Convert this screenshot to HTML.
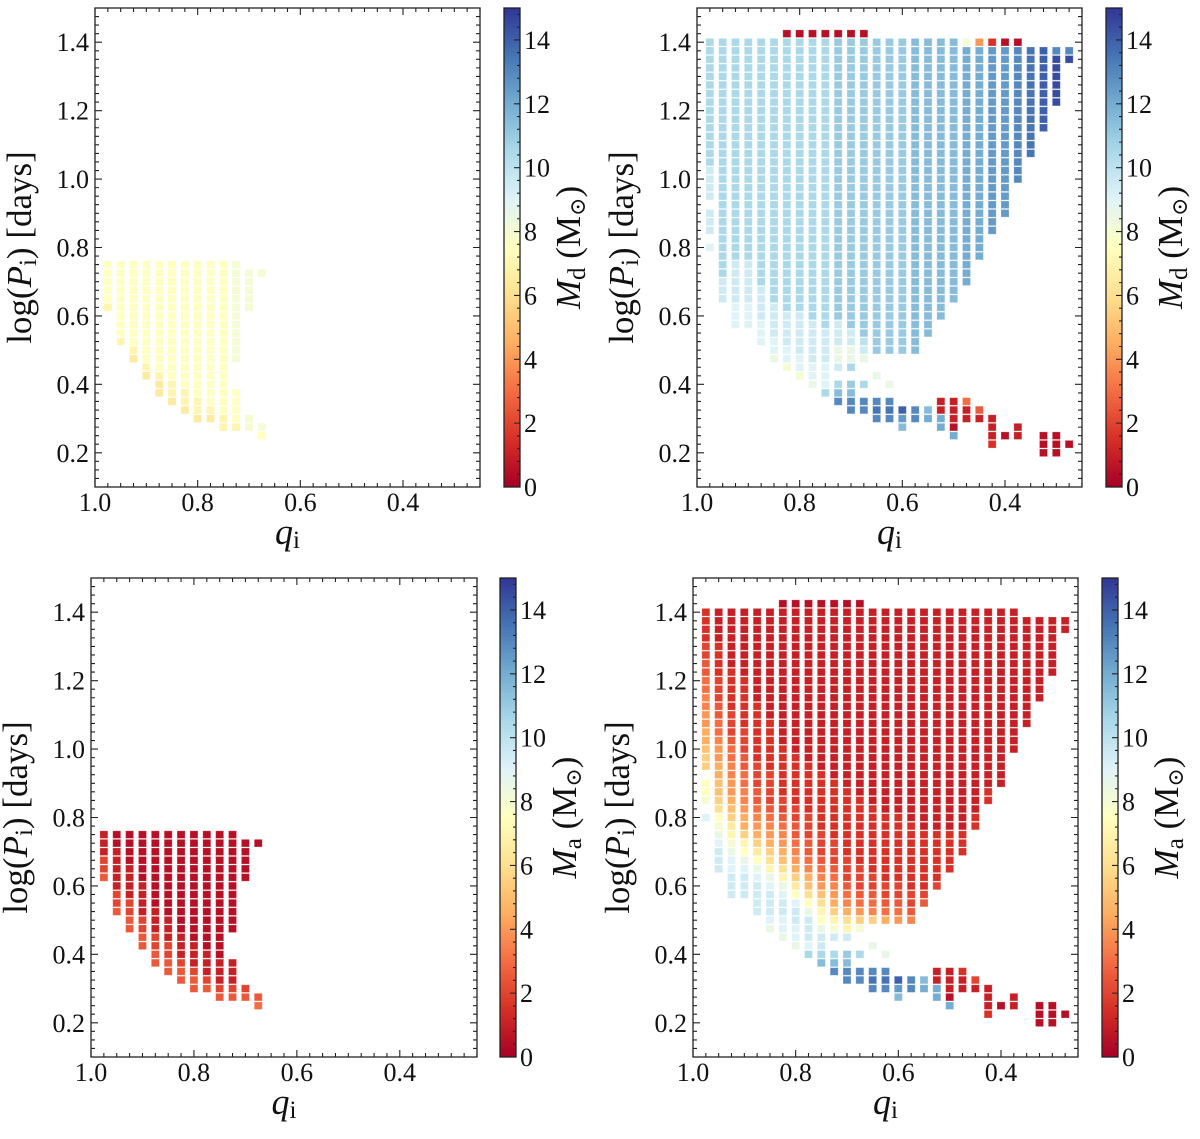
<!DOCTYPE html>
<html><head><meta charset="utf-8"><style>
html,body{margin:0;padding:0;background:#fff;}
svg{display:block;}
text{font-family:"Liberation Serif","DejaVu Serif",serif;}
</style></head><body>
<svg id="fig" xmlns="http://www.w3.org/2000/svg" width="1200" height="1139" viewBox="0 0 1200 1139">
<defs>
<linearGradient id="cmapGrad" x1="0" y1="1" x2="0" y2="0">
<stop offset="0" stop-color="#a50026"/><stop offset="0.1" stop-color="#d73027"/><stop offset="0.2" stop-color="#f46d43"/><stop offset="0.3" stop-color="#fdae61"/><stop offset="0.4" stop-color="#fee090"/><stop offset="0.5" stop-color="#ffffbf"/><stop offset="0.6" stop-color="#e0f3f8"/><stop offset="0.7" stop-color="#abd9e9"/><stop offset="0.8" stop-color="#74add1"/><stop offset="0.9" stop-color="#4575b4"/><stop offset="1" stop-color="#313695"/>
</linearGradient>
</defs>
</svg>
<script>
// ---- data ----
const qValues = [0.975,0.95,0.925,0.9,0.875,0.85,0.825,0.8,0.775,0.75,0.725,0.7,0.675,0.65,0.625,0.6,0.575,0.55,0.525,0.5,0.475,0.45,0.425,0.4,0.375,0.35,0.325,0.3,0.275];
const logPValues = [0.2,0.225,0.25,0.275,0.3,0.325,0.35,0.375,0.4,0.425,0.45,0.475,0.5,0.525,0.55,0.575,0.6,0.625,0.65,0.675,0.7,0.725,0.75,0.775,0.8,0.825,0.85,0.875,0.9,0.925,0.95,0.975,1.0,1.025,1.05,1.075,1.1,1.125,1.15,1.175,1.2,1.225,1.25,1.275,1.3,1.325,1.35,1.375,1.4,1.425];
const valueCodes = "0123456789abcdefghijklmnopqrstuv";
const cbTicks = [0,2,4,6,8,10,12,14];
const yTicks = [0.2,0.4,0.6,0.8,1.0,1.2,1.4];
const xTicks = [1.0,0.8,0.6,0.4];
const mdTopLeft = [
"17.,e,5f,27.","13.,e,9f,27.","11.,d,e,10f,27.","9.,d,e,12f,27.","7.,2d,e,13f,27.","6.,d,2e,14f,27.","5.,d,2e,15f,27.","4.,d,2e,16f,27.","4.,d,e,17f,27.","3.,2e,18f,27.","3.,e,4f,3.,12g,27.","3.,2g,12.,5g,28.","2.,f,g,17.,g,28."
];
const maBottomLeft = [
"17.,5,24,32,27.","13.,5,24,52,21,27.","11.,25,24,42,41,27.","9.,25,24,42,61,27.","7.,25,24,32,91,27.","6.,25,24,32,101,27.","5.,25,4,32,121,27.","4.,25,4,32,131,27.","4.,5,4,32,141,27.","3.,5,4,32,151,27.","3.,5,4,32,3.,121,27.","3.,5,4,12.,51,28.","2.,6,5,17.,1,28."
];
const mdTopRight = [
"24.,i,.,3j,.,4j,15l,.","18.,3j,28l,.","15.,3i,5j,26l,.","15.,3i,5j,26l,.","13.,3i,4j,29l,.","11.,h,2i,4j,31l,.","10.,g,2i,4j,32l,1","9.,g,2i,5j,32l,1","8.,h,2i,5j,33l,1","7.,l,3i,4j,34l,1",
"6.,q,n,l,.,j,2h,3j,33m,1","5.,2q,n,m,.,l,2h,2j,34m,1","5.,2q,.,l,2.,h,j,k,35m,1","4.,q,r,q,2.,h,2.,37m,.","4.,q,r,q,.,h,3.,37m,.","3.,n,p,s,6.,37m,.","4.,2q,6.,37n,.","4.,o,n,8.,35n,.","3.,2o,22,9.,33n,.","2.,o,1,32,11.,31n,.",
"4.,22,6,13.,28o,g,.","4.,2,5,17.,25o,8,.","1.,3,32,21.,22p,3,.","2.,1,25.,20p,1,.","2.,22,28.,16q,1,.","35.,13r,2.","31,35.,10s,2.","31,38.,6t,q,2.",".,1,44.,t,q,2."
];
const maBottomRight = [
"24.,i,.,g,2f,.,2b,a,29,28,27,26,25,24,43,.","18.,3j,i,h,g,f,c,b,2a,29,28,7,26,25,34,43,42,.","15.,3j,2i,h,g,e,d,b,a,9,28,27,26,5,34,53,72,.","15.,3j,i,h,f,e,b,29,8,27,26,25,34,63,82,.","13.,4j,i,h,f,d,b,9,8,7,6,25,34,73,112,.","11.,h,i,3j,i,h,e,c,b,9,8,7,6,5,44,63,132,.","10.,h,2i,2j,i,h,e,c,a,9,8,7,6,5,24,63,162,1","9.,h,2i,2j,i,f,d,b,9,8,7,6,25,24,63,172,1","8.,l,i,3j,h,f,c,a,9,7,6,25,34,63,182,1","7.,n,l,2j,h,f,e,c,a,8,7,6,5,34,73,192,1",
"6.,q,n,l,.,j,g,e,b,9,8,7,6,5,34,73,202,1","5.,2q,n,m,.,j,e,c,9,7,6,5,34,83,212,1","5.,2q,.,l,2.,g,b,8,6,5,34,83,222,1","4.,q,r,q,2.,h,2.,b,7,6,5,24,83,232,.","4.,q,r,q,.,h,3.,9,6,5,24,83,242,.","3.,n,p,s,6.,8,6,5,24,83,242,.","4.,2q,6.,7,5,24,83,252,.","4.,o,n,8.,5,4,73,262,.","3.,2o,22,9.,4,63,262,.","2.,o,1,32,11.,53,262,.",
"4.,22,3,13.,33,262,.","4.,2,4,17.,23,242,.","1.,3,32,21.,23,212,.","2.,1,25.,212,.","2.,22,28.,172,.","35.,132,2.","31,35.,102,2.","31,38.,72,2.",".,1,44.,22,2."
];

// ---- rendering ----
var NS = "http://www.w3.org/2000/svg";
var svg = document.getElementById('fig');
var anchors = ["#a50026","#d73027","#f46d43","#fdae61","#fee090","#ffffbf","#e0f3f8","#abd9e9","#74add1","#4575b4","#313695"];
function hex(c){return [parseInt(c.substring(1,3),16),parseInt(c.substring(3,5),16),parseInt(c.substring(5,7),16)];}
function cmap(v){
  var t=Math.max(0,Math.min(1,v/15))*10; var i=Math.min(9,Math.floor(t)); var f=t-i;
  var a=hex(anchors[i]), b=hex(anchors[i+1]);
  var r=Math.round(a[0]+(b[0]-a[0])*f), g=Math.round(a[1]+(b[1]-a[1])*f), bl=Math.round(a[2]+(b[2]-a[2])*f);
  return "rgb("+r+","+g+","+bl+")";
}
function decode(s){
  var out=[]; var toks=s.split(",");
  for(var j=0;j<toks.length;j++){var tok=toks[j];var code=tok.charAt(tok.length-1);var n=tok.length>1?parseInt(tok.substring(0,tok.length-1),10):1;for(var i=0;i<n;i++)out.push(code);}
  return out;
}
function mk(tag,attrs,parent){var e=document.createElementNS(NS,tag);if(tag==='text')e.setAttribute('font-family','"Liberation Serif", "DejaVu Serif", serif');for(var k in attrs)e.setAttribute(k,String(attrs[k]));(parent||svg).appendChild(e);return e;}

function drawPanel(p){
  var g=mk('g',{});
  
  
  var X=function(q){return p.left+(1.0-q)/0.75*(p.right-p.left);};
  var Y=function(v){return p.top+(1.5-v)/1.4*(p.bottom-p.top);};
  var cellW=8, cellH=7.6;
  var cells=mk('g',{},g);
  
  
  for(var ci=0;ci<p.data.length;ci++){
    var codes=decode(p.data[ci]);
    for(var ri=0;ri<codes.length && ri<logPValues.length;ri++){
      var c=codes[ri];
      if(c==='.')continue;
      var val=valueCodes.indexOf(c)/2;
      var col=cmap(val);
      var r=document.createElementNS(NS,'rect');
      r.setAttribute('x',(X(qValues[ci])-cellW/2).toFixed(2));
      r.setAttribute('y',(Y(logPValues[ri])-cellH/2).toFixed(2));
      r.setAttribute('width',String(cellW));
      r.setAttribute('height',String(cellH));
      r.setAttribute('fill',col);
      r.setAttribute('stroke','#ffffff');
      r.setAttribute('stroke-opacity','0.3');
      r.setAttribute('stroke-width','0.8');
      
      
      cells.appendChild(r);
    }
  }
  var fr=mk('rect',{x:p.left,y:p.top,width:p.right-p.left,height:p.bottom-p.top,fill:'none',stroke:'#222','stroke-width':1.3},g);
  
  
  var d="";
  for(var k=0;k<=30;k++){var q=1.0-0.025*k;if(q<0.25-1e-9)break;var x=X(q);var L=(k%8===0)?7:4;
    d+="M"+x+" "+p.bottom+"v"+(-L)+"M"+x+" "+p.top+"v"+L;}
  for(var k2=0;k2<=56;k2++){var v=0.1+0.025*k2;var y=Y(v);var L2=((k2-4)%8===0)?7:4;
    d+="M"+p.left+" "+y+"h"+L2+"M"+p.right+" "+y+"h"+(-L2);}
  mk('path',{d:d,stroke:'#222','stroke-width':1.1,fill:'none'},g);
  yTicks.forEach(function(v){var t=mk('text',{x:p.left-6,y:Y(v)+9,'text-anchor':'end','font-size':26,fill:'#111'},g);t.textContent=v.toFixed(1);
    
    });
  xTicks.forEach(function(v){var t=mk('text',{x:X(v),y:p.bottom+24,'text-anchor':'middle','font-size':26,fill:'#111'},g);t.textContent=v.toFixed(1);
    
    });
  var xl=mk('text',{x:(p.left+p.right)/2,y:p.bottom+57,'text-anchor':'middle','font-size':36,fill:'#111'},g);
  xl.innerHTML='<tspan font-style="italic">q</tspan><tspan font-size="25" dy="4">i</tspan>';
  
  
  var cy=(p.top+p.bottom)/2;
  var yl=mk('text',{x:0,y:0,'text-anchor':'middle','font-size':35,fill:'#111',transform:'translate('+(p.left-64)+','+cy+') rotate(-90)'},g);
  yl.innerHTML='log(<tspan font-style="italic">P</tspan><tspan font-size="25" dy="5">i</tspan><tspan dy="-5">) [days]</tspan>';
  
  
  var cb=mk('g',{},g);
  
  
  var CY=function(v){return p.bottom-(v/15)*(p.bottom-p.top);};
  mk('rect',{x:p.cbL,y:p.top,width:p.cbR-p.cbL,height:p.bottom-p.top,fill:'url(#cmapGrad)',stroke:'#222','stroke-width':1.3},cb);
  var cd="";
  for(var k3=0;k3<=37;k3++){var vv=0.4*k3;if(vv>15)break;cd+="M"+p.cbR+" "+CY(vv)+"h"+((k3%5===0)?-6:-3);}
  mk('path',{d:cd,stroke:'#222','stroke-width':1.1},cb);
  cbTicks.forEach(function(v){var t=mk('text',{x:p.cbR+4,y:CY(v)+9,'font-size':26,fill:'#111'},cb);t.textContent=String(v);
    
    });
  var cl=mk('text',{x:0,y:0,'text-anchor':'middle','font-size':35,fill:'#111',transform:'translate('+(p.cbR+60)+','+cy+') rotate(-90)'},cb);
  cl.innerHTML='<tspan font-style="italic">M</tspan><tspan font-size="25" dy="5">'+p.sub+'</tspan><tspan dy="-5"> (M</tspan><tspan font-size="22" dy="5">⊙</tspan><tspan dy="-5">)</tspan>';
  
  
}
drawPanel({name:'panel-donor-mass-left',data:mdTopLeft,left:95,right:480,top:8,bottom:487,cbL:504,cbR:520,sub:'d'});
drawPanel({name:'panel-donor-mass-right',data:mdTopRight,left:697,right:1082,top:8,bottom:487,cbL:1106,cbR:1122,sub:'d'});
drawPanel({name:'panel-accretor-mass-left',data:maBottomLeft,left:91,right:477,top:578,bottom:1057,cbL:500,cbR:516,sub:'a'});
drawPanel({name:'panel-accretor-mass-right',data:maBottomRight,left:693,right:1078,top:578,bottom:1057,cbL:1102,cbR:1118,sub:'a'});
</script>
</body></html>
